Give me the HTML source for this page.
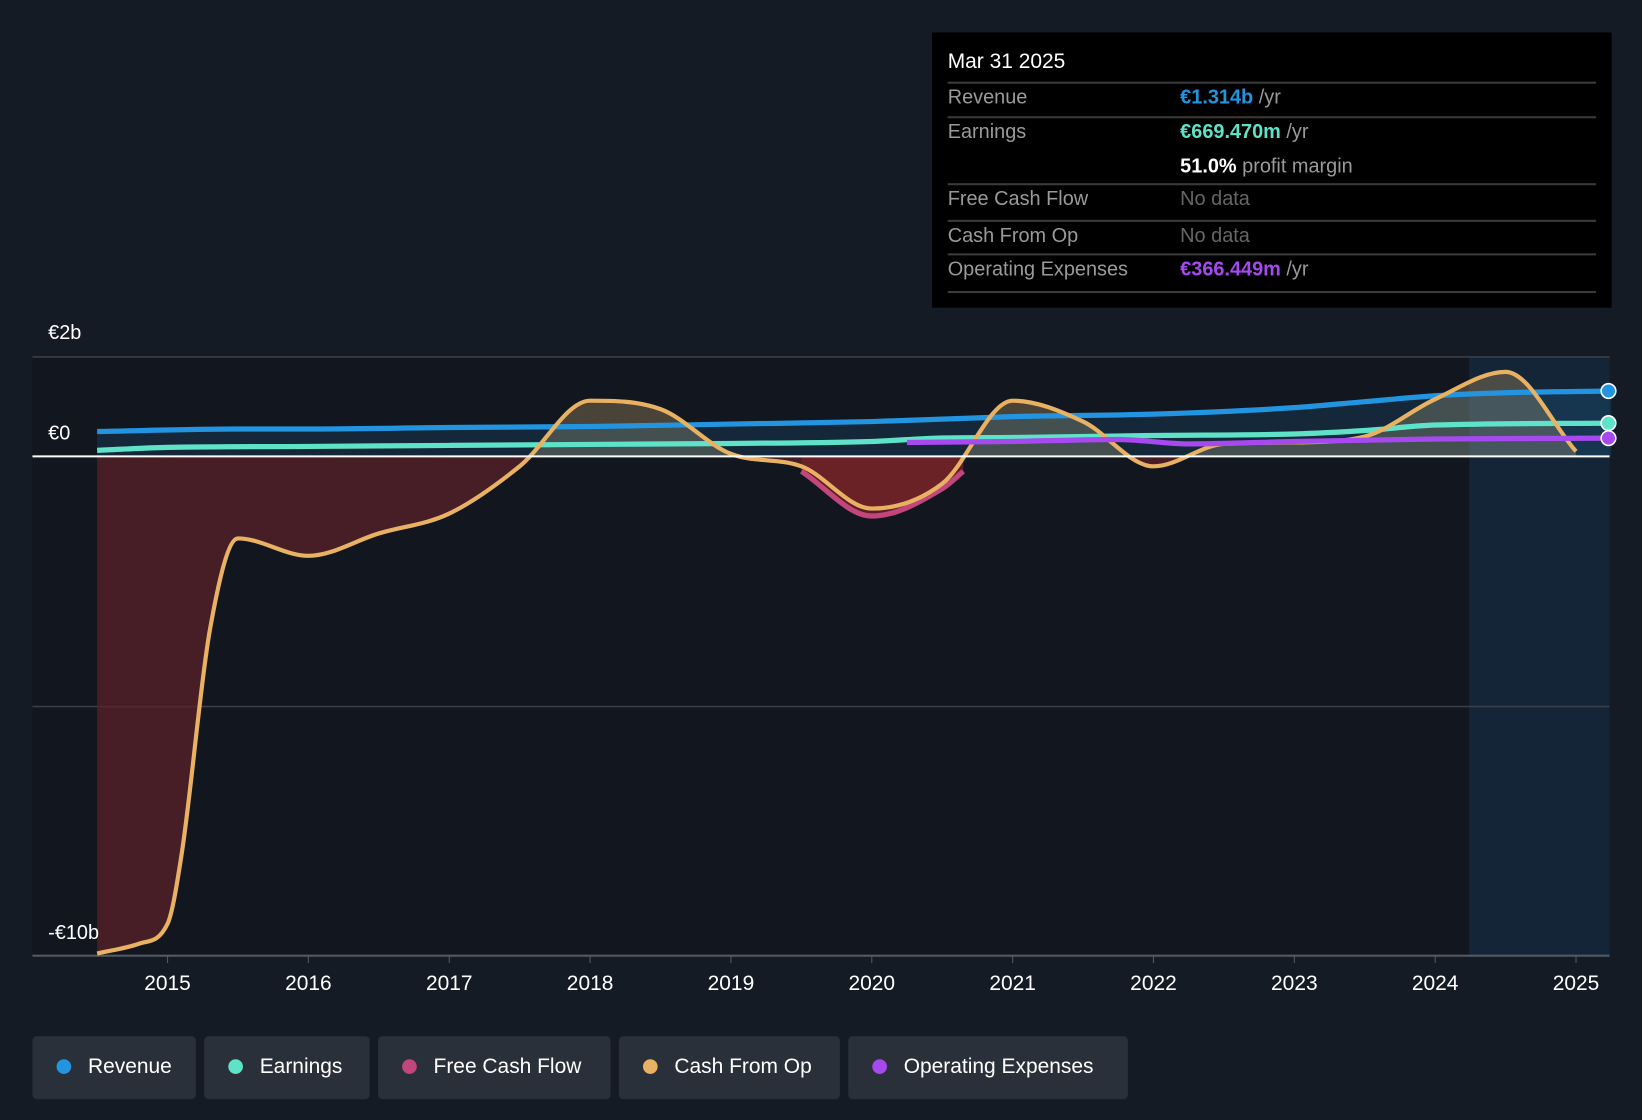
<!DOCTYPE html>
<html><head><meta charset="utf-8"><style>
html,body{margin:0;padding:0;background:#151b24;width:1642px;height:1120px;overflow:hidden;font-family:"Liberation Sans",sans-serif}
#wrap{position:absolute;left:0;top:0;width:1568px;height:1070px;transform:scale(1.04719,1.04673);transform-origin:0 0}
#tip{position:absolute;left:890px;top:31px;width:649px;height:263px;background:#000;color:#fff}
.row{position:absolute;left:15px;width:619px;border-top:2px solid #3a3a3a;font-size:19px;color:#9a9a9a}
.row span{position:absolute;top:3px}
.row b{font-weight:bold}
.legend{position:absolute;top:990px;height:60px;background:#2a303a;border-radius:4px;color:#fff;font-size:20px;line-height:58px}
.legend i{display:inline-block;width:14px;height:14px;border-radius:50%;margin:0 16px 0 23px;vertical-align:-1px}
</style></head><body>
<div id="wrap">
<svg id="chart" width="1568" height="980" style="position:absolute;left:0;top:0"></svg>
<div id="tip">
 <div style="position:absolute;left:15px;top:17px;font-size:20px">Mar 31 2025</div>
 <div class="row" style="top:47px;height:32px"><span>Revenue</span><span style="left:222px"><b style="color:#2394e0">€1.314b</b> /yr</span></div>
 <div class="row" style="top:80px;height:64px"><span>Earnings</span><span style="left:222px"><b style="color:#5fe3c8">€669.470m</b> /yr</span><span style="left:222px;top:36px"><b style="color:#fff">51.0%</b> profit margin</span></div>
 <div class="row" style="top:144px;height:33px"><span>Free Cash Flow</span><span style="left:222px;color:#666">No data</span></div>
 <div class="row" style="top:179px;height:32px"><span>Cash From Op</span><span style="left:222px;color:#666">No data</span></div>
 <div class="row" style="top:211px;height:34px;border-bottom:2px solid #3a3a3a"><span>Operating Expenses</span><span style="left:222px"><b style="color:#a64af0">€366.449m</b> /yr</span></div>
</div>
<div class="legend" style="left:31px;width:156px"><i style="background:#2394e0"></i>Revenue</div>
<div class="legend" style="left:195px;width:158px"><i style="background:#5fe3c8"></i>Earnings</div>
<div class="legend" style="left:361px;width:222px"><i style="background:#c2457c"></i>Free Cash Flow</div>
<div class="legend" style="left:591px;width:211px"><i style="background:#e9b162"></i>Cash From Op</div>
<div class="legend" style="left:810px;width:267px"><i style="background:#a64af0"></i>Operating Expenses</div>
</div>
<script>
const yearTicks=[2015,2016,2017,2018,2019,2020,2021,2022,2023,2024,2025];
const cfoT=[2014.5,2014.8,2015.0,2015.1,2015.3,2015.5,2016.0,2016.5,2017.0,2017.5,2018.0,2018.5,2019.0,2019.5,2020.0,2020.5,2021.0,2021.5,2022.0,2022.5,2023.0,2023.5,2024.0,2024.5,2025.0];
const cfoV=[-10,-9.8,-9.4,-8.0,-3.5,-1.65,-2.0,-1.55,-1.15,-0.2,1.12,0.95,0.05,-0.2,-1.05,-0.55,1.12,0.7,-0.2,0.25,0.28,0.4,1.15,1.7,0.1];
const fcfT=[2019.5,2020.0,2020.5,2020.65];
const fcfV=[-0.3,-1.2,-0.65,-0.3];
const revT=[2014.5,2015.5,2016,2017,2018,2019,2020,2021,2022,2023,2023.5,2024,2024.5,2025.25];
const revV=[0.5,0.55,0.55,0.58,0.6,0.65,0.7,0.8,0.85,0.98,1.1,1.22,1.28,1.314];
const earT=[2014.5,2015,2016,2017,2018,2019,2020,2020.5,2021,2022,2023,2023.5,2024,2025.25];
const earV=[0.12,0.18,0.2,0.22,0.24,0.26,0.3,0.37,0.38,0.42,0.45,0.52,0.63,0.669];
const opxT=[2020.25,2021,2021.75,2022.25,2023,2024,2025.25];
const opxV=[0.28,0.3,0.34,0.25,0.3,0.35,0.366];
const X=t=>160+(t-2015)*134.5, Y=v=>436-v*47.5;
const svg=document.getElementById('chart');
function el(tag,a,name){const e=document.createElementNS('http://www.w3.org/2000/svg',tag);for(const k in a)e.setAttribute(k,a[k]);


svg.appendChild(e);return e;}
function smooth(T,V){const p=T.map((t,i)=>[X(t),Y(V[i])]);const n=p.length;
const d=[],m=[];for(let i=0;i<n-1;i++)d.push((p[i+1][1]-p[i][1])/(p[i+1][0]-p[i][0]));
m[0]=d[0];m[n-1]=d[n-2];for(let i=1;i<n-1;i++){m[i]=(d[i-1]*d[i]<=0)?0:(d[i-1]+d[i])/2;}
for(let i=0;i<n-1;i++){if(d[i]===0){m[i]=0;m[i+1]=0;continue;}const a=m[i]/d[i],b=m[i+1]/d[i],s=a*a+b*b;if(s>9){const t=3/Math.sqrt(s);m[i]=t*a*d[i];m[i+1]=t*b*d[i];}}
let s='M'+p[0][0]+','+p[0][1];
for(let i=0;i<n-1;i++){const h=(p[i+1][0]-p[i][0])/3;s+=' C'+(p[i][0]+h)+','+(p[i][1]+m[i]*h)+' '+(p[i+1][0]-h)+','+(p[i+1][1]-m[i+1]*h)+' '+p[i+1][0]+','+p[i+1][1];}
return s;}
el('rect',{x:31,y:341,width:1372,height:573,fill:'#12161e'},'plot-background');
el('rect',{x:1403,y:341,width:134,height:573,fill:'#142537'},'forecast-region');
[341,675].forEach(y=>el('line',{x1:31,x2:1537,y1:y,y2:y,stroke:'#3a3f47','stroke-width':1.5},'gridline'));
el('line',{x1:31,x2:1537,y1:913,y2:913,stroke:'#555a62','stroke-width':2},'x-axis');
const defs=el('defs',{},'defs');
defs.innerHTML='<clipPath id="neg"><rect x="0" y="436" width="1600" height="600"/></clipPath><clipPath id="pos"><rect x="0" y="0" width="1600" height="436"/></clipPath>';
const cfo=smooth(cfoT,cfoV);
const area=cfo+' L'+X(cfoT[cfoT.length-1])+','+Y(0)+' L'+X(cfoT[0])+','+Y(0)+'Z';
el('path',{d:area,fill:'#5a2229',opacity:0.75,'clip-path':'url(#neg)'},'cfo-negative-area');
el('path',{d:area,fill:'#a08860',opacity:0.4,'clip-path':'url(#pos)'},'cfo-positive-area');
const fcfArea=smooth(fcfT,fcfV)+' L'+X(fcfT[fcfT.length-1])+','+Y(0)+' L'+X(fcfT[0])+','+Y(0)+'Z';
el('path',{d:fcfArea,fill:'#7a2428',opacity:0.7,'clip-path':'url(#neg)'},'fcf-negative-area');
el('path',{d:smooth(revT,revV)+' L'+X(2025.25)+','+Y(0)+' L'+X(2014.5)+','+Y(0)+'Z',fill:'#2394e0',opacity:0.15},'revenue-area');
el('path',{d:smooth(revT,revV),fill:'none',stroke:'#2394e0','stroke-width':5},'revenue-line');
el('path',{d:smooth(earT,earV),fill:'none',stroke:'#5fe3c8','stroke-width':5},'earnings-line');
el('path',{d:smooth(fcfT,fcfV),fill:'none',stroke:'#c2457c','stroke-width':5},'fcf-line');
el('path',{d:cfo,fill:'none',stroke:'#e9b162','stroke-width':4},'cfo-line');
el('path',{d:smooth(opxT,opxV),fill:'none',stroke:'#a64af0','stroke-width':5},'opex-line');
el('line',{x1:31,x2:1537,y1:436,y2:436,stroke:'#fff','stroke-width':2},'zero-line');
[[revV,'#2394e0','revenue-end-dot'],[earV,'#5fe3c8','earnings-end-dot'],[opxV,'#a64af0','opex-end-dot']].forEach(([v,c,n])=>el('circle',{cx:1536,cy:Y(v[v.length-1]),r:7,fill:c,stroke:'#fff','stroke-width':1.5},n));
yearTicks.forEach(y=>{el('line',{x1:X(y),x2:X(y),y1:913,y2:920,stroke:'#555a62'},'x-tick');
const t=el('text',{x:X(y),y:946,fill:'#fff','font-size':20,'text-anchor':'middle'},'x-tick-label');t.textContent=y;});
[['€2b',324],['€0',420],['-€10b',897]].forEach(([s,y])=>{const t=el('text',{x:46,y:y,fill:'#fff','font-size':19},'y-axis-label');t.textContent=s;});
</script>
</body></html>
